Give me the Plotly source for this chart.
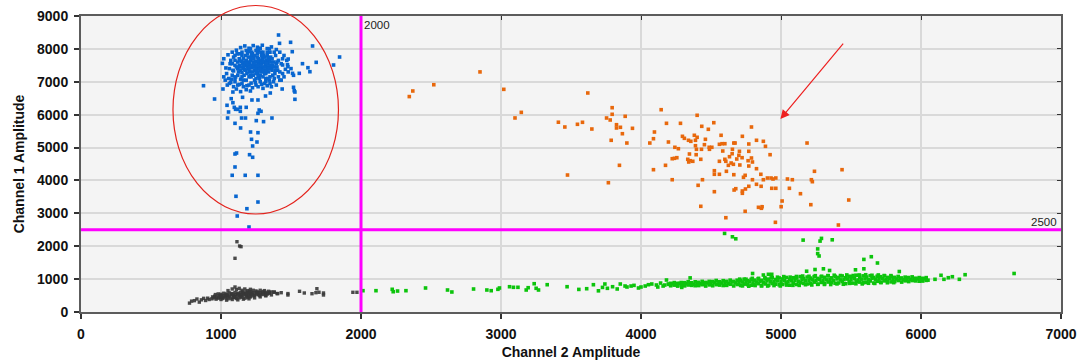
import plotly.graph_objects as go

# ---------------- data (Channel 2 amplitude, Channel 1 amplitude) ----------------
thr_x = 2000
thr_y = 2500

orange_pts = [
    (2345, 6550), (2370, 6720), (2520, 6910), (2850, 7300), (3020, 6770), (3145, 6070),
    (3100, 5900), (3410, 5770), (3456, 5625), (3475, 4165), (3546, 5707), (3582, 5768),
    (3620, 6659), (3649, 5564), (3754, 5899), (3780, 5838), (3794, 6212), (3794, 6011),
    (3825, 5695), (3825, 5595), (3853, 5616), (3887, 5950), (3867, 5421), (3939, 5585),
    (3787, 5221), (3899, 5138), (3846, 4460), (3767, 3931), (4144, 6151), (4401, 5981),
    (4182, 5737), (4282, 5737), (4096, 5473), (4089, 5269), (4063, 5138), (4196, 5169),
    (4242, 5008), (4267, 4965), (4089, 4327), (4175, 4460), (4223, 4661), (4239, 4673),
    (4256, 4692), (4223, 4022), (4296, 5342), (4310, 5281), (4339, 5221), (4356, 5190),
    (4381, 5373), (4401, 5312), (4389, 5221), (4434, 5646), (4481, 5555), (4520, 5756),
    (4460, 5251), (4389, 5056), (4453, 5087), (4396, 4947), (4432, 4947), (4487, 5008),
    (4506, 5008), (4489, 4947), (4346, 4804), (4394, 4783), (4334, 4643), (4351, 4600),
    (4370, 4582), (4341, 4561), (4427, 4643), (4408, 3852), (4439, 4022), (4427, 3214),
    (4524, 4296), (4524, 4187), (4560, 4187), (4524, 3658), (4606, 2867), (4572, 5373),
    (4560, 5099), (4579, 5117), (4599, 5117), (4584, 4895), (4560, 4582), (4599, 4643),
    (4606, 4582), (4632, 4722), (4653, 4947), (4651, 4813), (4624, 4460), (4644, 4530),
    (4660, 4491), (4610, 4278), (4663, 4175), (4677, 3749), (4665, 3709), (4684, 4652),
    (4703, 4886), (4699, 4764), (4722, 4692), (4706, 4470), (4724, 5342), (4663, 5138),
    (4672, 5138), (4744, 4156), (4732, 4096), (4724, 3679), (4724, 3609), (4746, 3740),
    (4770, 3822), (4765, 4600), (4770, 4439), (4789, 4682), (4796, 4561), (4770, 5108),
    (4770, 4886), (4789, 5625), (4825, 5221), (4825, 4357), (4796, 4022), (4825, 3883),
    (4839, 3183), (4744, 3062), (4874, 5190), (4889, 5038), (4922, 4783), (4856, 4187),
    (4874, 4022), (4903, 4074), (4929, 4074), (4943, 4044), (4963, 4074), (4858, 3822),
    (4934, 3761), (4963, 3761), (5046, 4044), (5081, 4022), (5060, 3761), (5139, 3597),
    (5186, 5138), (5239, 4278), (5217, 4022), (5224, 3962), (5008, 3375), (5001, 3202),
    (5213, 3263), (4865, 3202), (4860, 3153), (4960, 2727), (5436, 4327), (5484, 3405),
    (5410, 2645),
]

blue_pts = [
    # outliers / tail
    (875, 6880), (954, 6476), (1014, 6780), (1073, 6486), (1085, 6364), (1095, 6223),
    (1104, 6163), (1118, 6163), (1043, 6285), (1054, 6081), (1047, 5898), (1100, 5737),
    (1140, 5595), (1147, 5898), (1175, 5898), (1138, 6223), (1138, 6102), (1180, 6223),
    (1085, 6689), (1154, 6528), (1221, 6446), (1264, 6446), (1273, 6142), (1286, 6102),
    (1264, 6041), (1252, 5818), (1304, 5788), (1364, 5898), (1211, 5473), (1264, 5452),
    (1218, 5251), (1257, 5169), (1226, 5047), (1100, 4804), (1111, 4834), (1204, 4783),
    (1226, 4704), (1100, 4409), (1080, 4156), (1173, 4156), (1264, 4156), (1107, 3518),
    (1264, 3344), (1185, 3141), (1116, 2919), (1200, 2584),
    (1518, 6832), (1523, 6729), (1528, 6689), (1528, 6467), (1437, 6780), (1352, 6659),
    (1318, 6568), (1511, 7257), (1518, 7197), (1559, 7257), (1621, 7428), (1635, 7306),
    (1582, 7550), (1680, 7591), (1804, 7510), (1847, 7753), (1654, 8088), (1497, 8200),
    (1411, 8422), (1418, 8169), (1509, 7915), (1480, 7692), (1440, 7510), (1478, 7459),
    # outer ring of the cluster
    (1010, 7560), (1020, 7700), (1035, 7420), (1040, 7250), (1050, 7820), (1055, 7100),
    (1065, 7550), (1070, 6980), (1080, 7900), (1090, 7330), (1100, 7000), (1110, 7960),
    (1120, 6900), (1140, 8040), (1150, 6950), (1170, 8090), (1185, 6880), (1200, 8020),
    (1215, 6960), (1230, 8100), (1250, 6900), (1260, 8050), (1280, 7000), (1295, 8110),
    (1310, 6950), (1330, 8010), (1345, 7050), (1360, 8060), (1380, 7100), (1395, 7980),
    (1410, 7150), (1420, 7900), (1440, 7250), (1450, 7800), (1460, 7380), (1470, 7650),
    (1475, 7520), (1430, 7050), (1395, 6900), (1330, 6880),
    # lower part of the cluster
    (1030, 7050), (1060, 6950), (1090, 6850), (1110, 6780), (1130, 6920), (1160, 6850),
    (1180, 6760), (1200, 6900), (1225, 6820), (1245, 6980), (1265, 6850), (1290, 6920),
    (1320, 7000), (1350, 6950), (1375, 7000), (1020, 7150), (1045, 6900), (1075, 7080),
    (1140, 6700), (1210, 6720), (1300, 6800), (1420, 7050), (1450, 7150), (1480, 7300),
    (1500, 7400), (1360, 6850), (1100, 7100), (1160, 7050), (1250, 7100), (1320, 7100),
    # middle ring
    (1060, 7400), (1070, 7650), (1080, 7200), (1090, 7750), (1100, 7500), (1105, 7150),
    (1115, 7850), (1125, 7300), (1130, 7700), (1140, 7080), (1150, 7900), (1160, 7450),
    (1165, 7200), (1175, 7800), (1180, 7050), (1190, 7600), (1200, 7920), (1205, 7300),
    (1215, 7150), (1225, 7850), (1235, 7450), (1240, 7050), (1250, 7950), (1260, 7250),
    (1270, 7700), (1275, 7100), (1285, 7900), (1290, 7400), (1300, 7150), (1305, 7800),
    (1315, 7550), (1320, 7250), (1330, 7900), (1340, 7450), (1350, 7150), (1355, 7750),
    (1365, 7350), (1375, 7600), (1385, 7250), (1390, 7800), (1400, 7450), (1410, 7650),
    (1420, 7300), (1430, 7550), (1440, 7700), (1380, 7900), (1345, 8000), (1280, 8020),
    (1210, 8000), (1120, 7600),
    # dense core
    (1120, 7400), (1130, 7500), (1140, 7350), (1145, 7620), (1150, 7280), (1155, 7550),
    (1160, 7700), (1170, 7380), (1175, 7500), (1180, 7650), (1185, 7250), (1190, 7450),
    (1195, 7750), (1200, 7350), (1205, 7550), (1210, 7650), (1215, 7420), (1220, 7800),
    (1225, 7300), (1230, 7600), (1235, 7700), (1240, 7350), (1245, 7500), (1250, 7620),
    (1255, 7400), (1260, 7750), (1265, 7300), (1270, 7550), (1275, 7450), (1280, 7650),
    (1285, 7350), (1290, 7550), (1295, 7700), (1300, 7450), (1305, 7600), (1310, 7350),
    (1315, 7750), (1320, 7500), (1325, 7650), (1330, 7400), (1335, 7550), (1340, 7300),
    (1345, 7650), (1350, 7500), (1360, 7400), (1365, 7700), (1370, 7500), (1230, 7450),
    (1200, 7500), (1170, 7600), (1250, 7250), (1280, 7200), (1310, 7250), (1190, 7850),
    (1260, 7850), (1330, 7800), (1160, 7400), (1210, 7200), (1240, 7800), (1300, 7900),
    (1270, 7950), (1150, 7800), (1110, 7450), (1100, 7650), (1085, 7350), (1350, 7900),
    (1400, 7600), (1405, 7350), (1370, 7200), (1335, 7100),
    (1180, 7550), (1195, 7400), (1215, 7700), (1225, 7500), (1245, 7600), (1255, 7350),
    (1265, 7650), (1275, 7400), (1290, 7300), (1300, 7650), (1315, 7450), (1325, 7350),
    (1140, 7450), (1135, 7650), (1165, 7500), (1175, 7350), (1205, 7450), (1235, 7550),
    (1260, 7500), (1285, 7500), (1310, 7600), (1325, 7550), (1345, 7400), (1355, 7600),
    (1380, 7450), (1390, 7350), (1395, 7550), (1120, 7200), (1150, 7150), (1200, 7150),
    (1230, 7200), (1265, 7150), (1300, 7350), (1340, 7700), (1290, 7800), (1220, 7900),
    (1180, 7950), (1130, 7850), (1100, 7800), (1080, 7550),
]

gray_pts = [
    (775, 270), (790, 330), (810, 345), (828, 395), (845, 300), (860, 370), (876, 415),
    (890, 350), (905, 420), (915, 380),
    (935, 400), (950, 430), (965, 390), (980, 420), (995, 440), (1010, 410), (1030, 430),
    (1050, 400), (1070, 420), (1090, 440), (1110, 410), (1130, 430), (1150, 450), (1170, 420),
    (1190, 440), (1210, 460),
    (940, 460), (955, 480), (970, 450), (985, 490), (1000, 470), (1015, 500), (1030, 480),
    (1045, 510), (1060, 490), (1075, 520), (1090, 500), (1105, 530), (1120, 495), (1135, 520),
    (1150, 500), (1165, 530), (1180, 510), (1195, 540), (1210, 520), (1225, 545), (1240, 510),
    (1255, 540), (1270, 525), (1285, 550), (1300, 530), (1315, 560), (1330, 545), (1345, 570),
    (960, 530), (980, 550), (1000, 540), (1020, 570), (1040, 550), (1060, 580), (1080, 560),
    (1100, 590), (1120, 570), (1140, 600), (1160, 580), (1180, 610), (1200, 590), (1220, 600),
    (1240, 580), (1260, 610), (1280, 590), (1300, 620), (1320, 600), (1340, 630), (1360, 610),
    (1380, 600),
    (1050, 650), (1080, 700), (1100, 760), (1110, 680), (1130, 720), (1150, 660), (1170, 700),
    (1190, 650), (1210, 690), (1230, 660), (1250, 640), (1280, 660), (1310, 650),
    (1000, 380), (1040, 360), (1080, 380), (1120, 370), (1160, 390), (1200, 400), (1240, 430),
    (1280, 460), (1320, 490), (1360, 520), (1400, 560),
    (1010, 450), (1050, 460), (1095, 470), (1140, 470), (1185, 480), (1230, 490), (1275, 500),
    (1320, 510), (1125, 550), (1175, 555), (1215, 565), (1265, 575), (1075, 545), (1035, 520),
    (995, 510), (1155, 610), (1205, 630), (1255, 595), (1300, 580), (1345, 590), (1100, 445),
    (1200, 470), (1145, 540), (1190, 575),
    (1380, 608), (1405, 560), (1430, 587), (1478, 517), (1478, 560), (1561, 629), (1595, 578),
    (1650, 556), (1678, 587), (1685, 708), (1732, 578), (1732, 517), (1942, 599), (1971, 599),
    (1700, 600),
    (1114, 2137), (1133, 2007), (1143, 1986), (1100, 1633),
]

green_sparse_pts = [
    (2014, 648), (2107, 648), (2223, 690), (2230, 617), (2261, 638), (2321, 648), (2461, 730),
    (2618, 669), (2649, 608), (2804, 699), (2899, 669), (2930, 648), (2978, 690), (2989, 730),
    (3061, 769), (3089, 751), (3121, 751), (3180, 669), (3194, 739), (3237, 860), (3251, 721),
    (3268, 669), (3330, 830), (3472, 769), (3556, 687), (3612, 708), (3660, 830), (3696, 644),
    (3725, 748), (3742, 851), (3797, 769), (3852, 851), (3886, 790), (3929, 790), (3982, 730),
    (4030, 790), (4053, 830), (4077, 851), (4110, 821), (4158, 790), (4182, 973), (4195, 851),
    (4243, 851), (4291, 748), (4351, 1037), (3760, 720), (3830, 700), (3900, 760), (3950, 810),
    (4000, 760), (4120, 760), (4140, 880), (4170, 820),
    (4797, 1171), (5183, 1240), (5243, 1292), (5303, 1313), (5347, 1262), (5532, 1283),
    (5592, 1313), (5845, 1231), (4874, 1125), (4910, 1146), (4934, 1146), (5592, 1599),
    (5645, 1681), (5689, 1490), (5158, 2186), (5279, 2156), (5289, 2238), (5366, 2195),
    (5262, 1918), (5262, 1776), (5272, 1703), (4597, 2390), (4653, 2287), (4677, 2226),
    (6100, 994), (6143, 1116), (6164, 994), (6195, 1043), (6224, 1073), (6274, 994),
    (6315, 1134), (6665, 1171),
]

green_band_x_mid = [4200, 4225, 4250, 4275, 4300, 4325, 4350, 4375, 4400, 4425, 4450, 4475,
                    4500, 4525, 4550, 4575, 4600, 4625, 4650, 4675, 4700, 4725, 4750, 4775,
                    4800, 4825, 4850, 4875, 4900, 4925, 4950, 4975, 5000, 5025, 5050, 5075,
                    5100, 5125, 5150, 5175, 5200, 5225, 5250, 5275, 5300, 5325, 5350, 5375,
                    5400, 5425, 5450, 5475, 5500, 5525, 5550, 5575, 5600, 5625, 5650, 5675,
                    5700, 5725, 5750, 5775, 5800, 5825, 5850, 5875, 5900, 5925, 5950, 5975,
                    6000, 6025, 6050]
green_band_y_mid = [840, 857, 835, 867, 830, 857, 865, 842, 885, 857, 865, 882,
                    860, 892, 855, 882, 890, 868, 911, 885, 893, 911, 889, 923,
                    886, 914, 923, 901, 945, 918, 926, 944, 923, 956, 919, 948,
                    956, 935, 978, 951, 960, 977, 955, 987, 950, 977, 985, 962,
                    1005, 977, 985, 1002, 980, 1011, 972, 999, 1005, 981, 1022, 994,
                    1000, 1015, 990, 1020, 980, 1004, 1007, 981, 1020, 989, 992, 1006,
                    980, 1009, 968]

green_band_x_side = [4212, 4237, 4262, 4287, 4312, 4337, 4362, 4387, 4412, 4437, 4462, 4487,
                     4512, 4537, 4562, 4587, 4612, 4637, 4662, 4687, 4712, 4737, 4762, 4787,
                     4812, 4837, 4862, 4887, 4912, 4937, 4962, 4987, 5012, 5037, 5062, 5087,
                     5112, 5137, 5162, 5187, 5212, 5237, 5262, 5287, 5312, 5337, 5362, 5387,
                     5412, 5437, 5462, 5487, 5512, 5537, 5562, 5587, 5612, 5637, 5662, 5687,
                     5712, 5737, 5762, 5787, 5812, 5837, 5862, 5887, 5912, 5937, 5962, 5987,
                     6012, 6037]
green_band_y_upper = [872, 894, 872, 897, 894, 921, 890, 918, 902, 931, 900, 931,
                      926, 959, 919, 953, 932, 968, 930, 967, 962, 1000, 953, 993,
                      968, 1010, 964, 1008, 1000, 1045, 989, 1035, 1005, 1050, 997, 1042,
                      1032, 1077, 1017, 1063, 1031, 1076, 1022, 1067, 1055, 1100, 1039, 1084,
                      1051, 1096, 1042, 1087, 1074, 1118, 1056, 1099, 1064, 1104, 1050, 1088,
                      1074, 1108, 1052, 1084, 1054, 1080, 1036, 1060, 1048, 1068, 1027, 1046,
                      1025, 1045]
green_band_y_lower = [798, 817, 787, 814, 794, 821, 810, 800, 804, 830, 789, 824,
                      798, 832, 818, 805, 810, 843, 793, 836, 806, 847, 831, 815,
                      823, 861, 801, 853, 816, 865, 846, 827, 837, 882, 815, 874,
                      836, 888, 870, 853, 863, 908, 840, 899, 859, 911, 892, 874,
                      883, 928, 860, 919, 878, 929, 909, 889, 898, 943, 880, 935,
                      901, 946, 930, 916, 924, 957, 909, 948, 925, 956, 945, 936,
                      941, 961]

green_edge_top_x = [4705, 4750, 4795, 4840, 4885, 4930, 4975, 5020, 5065, 5110, 5155, 5200,
                    5245, 5290, 5335, 5380, 5425, 5470, 5515, 5560, 5605, 5650, 5695, 5740, 5785]
green_edge_top_y = [999, 997, 1024, 1023, 1046, 1037, 1059, 1076, 1060, 1080, 1093, 1086,
                    1104, 1088, 1107, 1118, 1108, 1127, 1109, 1126, 1133, 1116, 1126, 1101, 1106]
green_edge_bot_x = [4725, 4770, 4815, 4860, 4905, 4950, 4995, 5040, 5085, 5130, 5175, 5220,
                    5265, 5310, 5355, 5400, 5445, 5490, 5535, 5580, 5625, 5670, 5715, 5760, 5805]
green_edge_bot_y = [794, 785, 804, 794, 790, 804, 792, 819, 811, 810, 830, 822,
                    847, 838, 835, 854, 844, 870, 859, 854, 874, 869, 895, 890, 893]

# annotation anchors (data units)
ellipse_center = (1248, 6150)
ellipse_radius = (591, 3170)
arrow_tip = (4996, 5868)
arrow_tail = (5453, 8209)

X_RANGE = [0, 7000]
Y_RANGE = [0, 9000]

# ---------------- figure ----------------
green_x = ([p[0] for p in green_sparse_pts] + green_band_x_mid + green_band_x_side
           + green_band_x_side + green_edge_top_x + green_edge_bot_x)
green_y = ([p[1] for p in green_sparse_pts] + green_band_y_mid + green_band_y_upper
           + green_band_y_lower + green_edge_top_y + green_edge_bot_y)

fig = go.Figure()

def add_cloud(xs, ys, color, size=3.6):
    fig.add_trace(go.Scatter(
        x=xs, y=ys, mode="markers",
        marker=dict(symbol="square", size=size, color=color, line=dict(width=0)),
        hoverinfo="skip", showlegend=False, cliponaxis=True))

add_cloud([p[0] for p in gray_pts], [p[1] for p in gray_pts], "rgba(55,55,55,0.9)", 3.4)
add_cloud(green_x, green_y, "#0cc40c")
add_cloud([p[0] for p in orange_pts], [p[1] for p in orange_pts], "#e8680c")
add_cloud([p[0] for p in blue_pts], [p[1] for p in blue_pts], "#0866d0")

# empty trace to carry the top/right tick axes
fig.add_trace(go.Scatter(x=[], y=[], xaxis="x2", yaxis="y2", showlegend=False))

tick_font = dict(family="Liberation Sans, Arial, sans-serif", size=14, color="#111111", weight="bold")
title_font = dict(family="Liberation Sans, Arial, sans-serif", size=14, color="#111111", weight="bold")

fig.update_layout(
    template="none",
    width=1080, height=363,
    margin=dict(l=81, r=19, t=16, b=51, pad=0),
    paper_bgcolor="white",
    plot_bgcolor="#f4f4f4",
    showlegend=False,
    xaxis=dict(
        range=X_RANGE, tickmode="array", tickvals=list(range(0, 7001, 1000)),
        showgrid=True, gridcolor="#d9d9d9", gridwidth=1.5, zeroline=False,
        showline=True, linecolor="#5c5c5c", linewidth=2, mirror=True,
        ticks="outside", ticklen=5, tickwidth=1.5, tickcolor="#333333",
        tickfont=tick_font, automargin=False, ticklabelstandoff=3,
        title=dict(text="Channel 2 Amplitude", font=title_font, standoff=6),
    ),
    yaxis=dict(
        range=Y_RANGE, tickmode="array", tickvals=list(range(0, 9001, 1000)),
        showgrid=True, gridcolor="#d9d9d9", gridwidth=1.5, zeroline=False,
        showline=True, linecolor="#5c5c5c", linewidth=2, mirror=True,
        ticks="outside", ticklen=5, tickwidth=1.5, tickcolor="#333333",
        tickfont=tick_font, automargin=False, ticklabelstandoff=3,
        title=dict(text="Channel 1 Amplitude", font=title_font, standoff=9),
    ),
    xaxis2=dict(range=X_RANGE, overlaying="x", side="top", tickmode="array",
                tickvals=list(range(1000, 7000, 1000)), ticks="inside", ticklen=4,
                tickcolor="#333333", showticklabels=False, showgrid=False,
                zeroline=False, showline=False),
    yaxis2=dict(range=Y_RANGE, overlaying="y", side="right", tickmode="array",
                tickvals=list(range(1000, 9000, 1000)), ticks="inside", ticklen=4,
                tickcolor="#333333", showticklabels=False, showgrid=False,
                zeroline=False, showline=False),
)

# threshold lines
fig.add_shape(type="line", xref="x", yref="paper", x0=thr_x, x1=thr_x, y0=0, y1=1,
              line=dict(color="#ff00ff", width=3), layer="above")
fig.add_shape(type="line", xref="paper", yref="y", x0=0, x1=1, y0=thr_y, y1=thr_y,
              line=dict(color="#ff00ff", width=3), layer="above")

lab_font = dict(family="Liberation Sans, Arial, sans-serif", size=11.5, color="#222222")
fig.add_annotation(x=thr_x, y=1, xref="x", yref="paper", text=str(thr_x), showarrow=False,
                   xanchor="left", yanchor="top", xshift=1, yshift=-1, font=lab_font)
fig.add_annotation(x=1, y=thr_y, xref="paper", yref="y", text=str(thr_y), showarrow=False,
                   xanchor="right", yanchor="bottom", xshift=-2, yshift=0, font=lab_font)

# red ellipse (in paper units derived from axis ranges so it may exceed the plot top)
cx, cy = ellipse_center
rx, ry = ellipse_radius
fig.add_shape(type="circle", xref="paper", yref="paper",
              x0=(cx - rx) / X_RANGE[1], x1=(cx + rx) / X_RANGE[1],
              y0=(cy - ry) / Y_RANGE[1], y1=(cy + ry) / Y_RANGE[1],
              line=dict(color="#e3221c", width=1.2), layer="above")

# red arrow
fig.add_annotation(x=arrow_tip[0], y=arrow_tip[1], ax=arrow_tail[0], ay=arrow_tail[1],
                   xref="x", yref="y", axref="x", ayref="y", text="", showarrow=True,
                   arrowhead=2, arrowsize=1.5, arrowwidth=1.2, arrowcolor="#ee2020")

fig.write_html("out.html")
